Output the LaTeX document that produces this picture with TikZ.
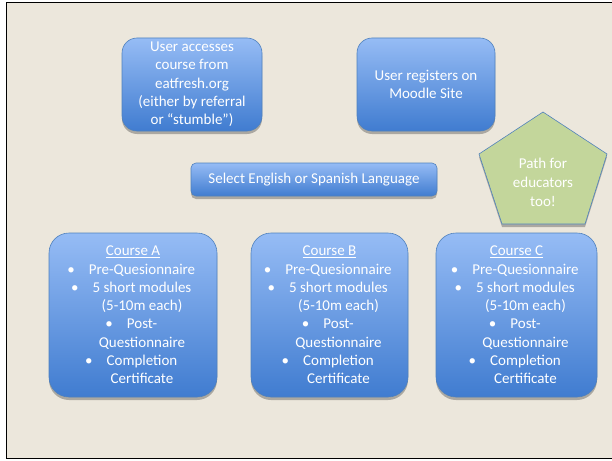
\documentclass[tikz,border=0pt]{standalone}
\usepackage{fontspec}
\setmainfont{Carlito}
\usetikzlibrary{shadows}
\definecolor{boxtop}{RGB}{150,188,245}
\definecolor{boxbot}{RGB}{64,124,208}
\definecolor{boxline}{RGB}{79,129,189}
\definecolor{canvas}{RGB}{236,231,220}
\definecolor{pentfill}{RGB}{195,214,155}
% one bulleted line and its run-on line, both moved right of the title
\newcommand{\itm}[1]{\hspace*{18pt}\llap{\textbullet\hspace{14pt}}#1}
\newcommand{\cnt}[1]{\hspace*{18pt}#1}

\begin{document}
\begin{tikzpicture}[x=1pt,y=-1pt,
  softshadow/.style={drop shadow={shadow xshift=0pt, shadow yshift=-3pt, opacity=0.35, fill=black!80}},
  bluebox/.style={draw=boxline, line width=0.6pt, rounded corners=#1,
    top color=boxtop, bottom color=boxbot, text=white, align=center,
    inner sep=0pt, font=\fontsize{15}{18.3}\selectfont, softshadow},
  coursebox/.style={bluebox=20pt, minimum width=#1, minimum height=164pt}]
\useasboundingbox (0,0) rectangle (612,460);
\fill[white] (0,0) rectangle (612,460);
\fill[canvas] (6.5,2.5) rectangle (612,458.5);
\draw[black, line width=1.5pt] (613,2.5) -- (6.5,2.5) -- (6.5,458.5) -- (613,458.5);

% top row
\node[bluebox=15pt, minimum width=140pt, minimum height=93pt] (access) at (192,84.5)
  {User accesses\\course from\\eatfresh.org\\(either by referral\\or ``stumble'')};
\node[bluebox=15pt, minimum width=138pt, minimum height=93pt] (register) at (426,84.5)
  {User registers on\\Moodle Site};

% language choice
\node[bluebox=5pt, minimum width=246pt, minimum height=33pt] (language) at (314,179.5)
  {Select English or Spanish Language};

% educators
\draw[draw=boxline, line width=0.6pt, fill=pentfill, softshadow]
  (543,112) -- (607,154) -- (585,224) -- (502,224) -- (479,154) -- cycle;
\node[text=white, align=center, font=\fontsize{15}{19}\selectfont] (educators) at (543,182)
  {Path for\\educators\\too!};

% courses
\node[coursebox=168pt] (courseA) at (133,315)
  {\underline{Course A}\\\itm{Pre-Quesionnaire}\\\itm{5 short modules}\\\cnt{(5-10m each)}\\
   \itm{Post-}\\\cnt{Questionnaire}\\\itm{Completion}\\\cnt{Certificate}};
\node[coursebox=157pt] (courseB) at (329.5,315)
  {\underline{Course B}\\\itm{Pre-Quesionnaire}\\\itm{5 short modules}\\\cnt{(5-10m each)}\\
   \itm{Post-}\\\cnt{Questionnaire}\\\itm{Completion}\\\cnt{Certificate}};
\node[coursebox=161pt] (courseC) at (516.5,315)
  {\underline{Course C}\\\itm{Pre-Quesionnaire}\\\itm{5 short modules}\\\cnt{(5-10m each)}\\
   \itm{Post-}\\\cnt{Questionnaire}\\\itm{Completion}\\\cnt{Certificate}};
\end{tikzpicture}
\end{document}
